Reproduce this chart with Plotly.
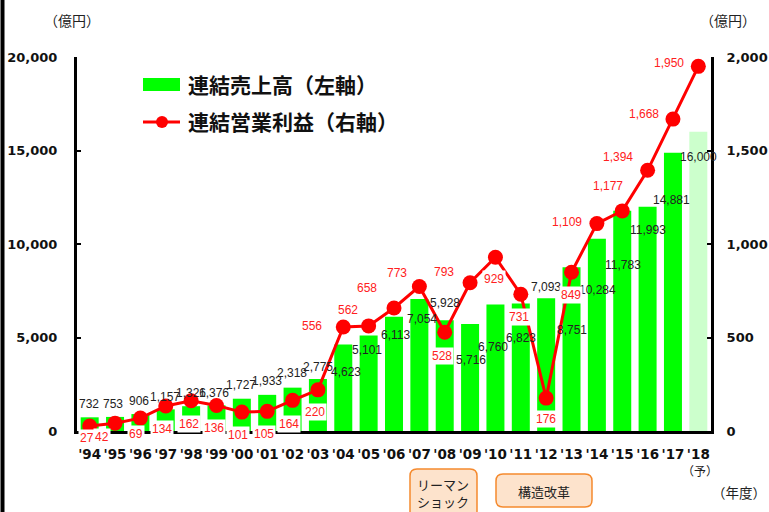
import plotly.graph_objects as go

# ---------------- data ----------------
years = ["'94", "'95", "'96", "'97", "'98", "'99", "'00", "'01", "'02", "'03",
         "'04", "'05", "'06", "'07", "'08", "'09", "'10", "'11", "'12", "'13",
         "'14", "'15", "'16", "'17", "'18"]
sales = [732, 753, 906, 1157, 1326, 1376, 1727, 1933, 2318, 2775,
         4623, 5101, 6113, 7054, 5928, 5716, 6760, 6823, 7093, 8751,
         10284, 11783, 11993, 14881, 16000]
profit = [27, 42, 69, 134, 162, 136, 101, 105, 164, 220,
          556, 562, 658, 773, 528, 793, 929, 731, 176, 849,
          1109, 1177, 1394, 1668, 1950]
left_ticks = [0, 5000, 10000, 15000, 20000]
right_ticks = [0, 500, 1000, 1500, 2000]

# label offsets (pixels) relative to bar top / point
sales_dx = [-1, -2, -1, -1, 0, -2, -1, 0, -1, 0,
            3, -2, 1, 3, 0, 1, -2, 0, 0, 0,
            1, 1, 0, -1, 0]
sales_dy = [13, 13, 13, 12, 13, 12, 14, 14, 15, 12,
            -27, -14, -18, -20, 17, -36, -42, -35, 11, -63,
            -51, -54, -23, -47, -25]
profit_dx = [-3, -13, -4, -4, -2, -2, -4, -3, -4, -3,
             -31, -21, -27, -22, -3, -26, -1, -2, 0, -1,
             -30, -14, -30, -29, -29]
profit_dy = [-12, -14, -16, -23, -23, -22, -23, -23, -24, -22,
             1, 16, 20, 13, -24, 11, -22, -23, -21, -23,
             2, 25, 13, 5, 3]

# ---------------- layout constants ----------------
W, H = 769, 512
L, R, T, B = 77, 711, 57, 431


def px(x):
    return (x - L) / (R - L)


def py(y):
    return (B - y) / (B - T)


bar_colors = ["#00ff00"] * (len(years) - 1) + ["#ccffcc"]
label_font = "Liberation Sans Narrow, Arial Narrow, Liberation Sans, Arial, sans-serif"
tick_font = "Verdana, DejaVu Sans, sans-serif"
jp_font = "Noto Sans CJK JP, sans-serif"

fig = go.Figure()
fig.add_trace(go.Bar(x=years, y=sales, marker=dict(color=bar_colors, line=dict(width=0)),
                     showlegend=False, yaxis="y", hoverinfo="skip"))
fig.add_trace(go.Scatter(x=years, y=profit, mode="lines+markers", yaxis="y2",
                         line=dict(color="#ff0000", width=3),
                         marker=dict(color="#ff0000", size=15),
                         showlegend=False, hoverinfo="skip"))

ann = []
for i, (yr, v) in enumerate(zip(years, sales)):
    ann.append(dict(x=yr, y=v, xref="x", yref="y", text=f"{v:,}", showarrow=False,
                    xshift=sales_dx[i], yshift=sales_dy[i],
                    font=dict(family=label_font, size=12, color="#222222"),
                    xanchor="center", yanchor="middle"))
for i, (yr, v) in enumerate(zip(years, profit)):
    ann.append(dict(x=yr, y=v, xref="x", yref="y2", text=f"{v:,}", showarrow=False,
                    xshift=profit_dx[i], yshift=profit_dy[i],
                    font=dict(family=label_font, size=12, color="#ff2020"),
                    bgcolor="white", borderpad=1,
                    xanchor="center", yanchor="middle"))

# unit labels
ann.append(dict(x=px(72), y=py(20), xref="paper", yref="paper", text="（億円）", showarrow=False,
                font=dict(family=jp_font, size=14, color="#222222"), xanchor="center", yanchor="middle"))
ann.append(dict(x=px(728), y=py(20), xref="paper", yref="paper", text="（億円）", showarrow=False,
                font=dict(family=jp_font, size=14, color="#222222"), xanchor="center", yanchor="middle"))
ann.append(dict(x=px(700), y=py(470), xref="paper", yref="paper", text="（予）", showarrow=False,
                font=dict(family=jp_font, size=12, color="#222222"), xanchor="center", yanchor="middle"))
ann.append(dict(x=px(768), y=py(492), xref="paper", yref="paper", text="（年度）", showarrow=False,
                font=dict(family=jp_font, size=13.5, color="#222222"), xanchor="right", yanchor="middle"))

# legend texts
ann.append(dict(x=px(186), y=py(84), xref="paper", yref="paper", text="<b>連結売上高（左軸）</b>",
                showarrow=False, font=dict(family=jp_font, size=21, color="#111111"),
                xanchor="left", yanchor="middle"))
ann.append(dict(x=px(186), y=py(121), xref="paper", yref="paper", text="<b>連結営業利益（右軸）</b>",
                showarrow=False, font=dict(family=jp_font, size=21, color="#111111"),
                xanchor="left", yanchor="middle"))

# event boxes text
ann.append(dict(x=px(443), y=py(493), xref="paper", yref="paper", text="リーマン<br>ショック",
                showarrow=False, font=dict(family=jp_font, size=13, color="#222222"),
                xanchor="center", yanchor="middle"))
ann.append(dict(x=px(544), y=py(491), xref="paper", yref="paper", text="構造改革",
                showarrow=False, font=dict(family=jp_font, size=13, color="#222222"),
                xanchor="center", yanchor="middle"))


def rounded_path(x0, y0, x1, y1, r):
    # pixel coords -> paper coords path with rounded corners
    def P(x, y):
        return f"{px(x):.5f},{py(y):.5f}"
    return (f"M {P(x0 + r, y0)} L {P(x1 - r, y0)} Q {P(x1, y0)} {P(x1, y0 + r)} "
            f"L {P(x1, y1 - r)} Q {P(x1, y1)} {P(x1 - r, y1)} "
            f"L {P(x0 + r, y1)} Q {P(x0, y1)} {P(x0, y1 - r)} "
            f"L {P(x0, y0 + r)} Q {P(x0, y0)} {P(x0 + r, y0)} Z")


shapes = [
    # left border of picture
    dict(type="line", xref="paper", yref="paper", x0=px(2.5), x1=px(2.5), y0=py(-2), y1=py(514),
         line=dict(color="black", width=4)),
    # legend symbols
    dict(type="rect", xref="paper", yref="paper", x0=px(143), x1=px(180), y0=py(91), y1=py(78),
         fillcolor="#00ff00", line=dict(width=0)),
    dict(type="line", xref="paper", yref="paper", x0=px(143), x1=px(180), y0=py(122), y1=py(122),
         line=dict(color="#ff0000", width=3)),
    dict(type="circle", xref="paper", yref="paper", x0=px(156), x1=px(168), y0=py(128), y1=py(116),
         fillcolor="#ff0000", line=dict(width=0)),
    # event boxes
    dict(type="path", xref="paper", yref="paper", path=rounded_path(410, 469, 477, 518, 7),
         fillcolor="#fde3cc", line=dict(color="#f58a2e", width=1.5)),
    dict(type="path", xref="paper", yref="paper", path=rounded_path(496, 474, 592, 507, 7),
         fillcolor="#fde3cc", line=dict(color="#f58a2e", width=1.5)),
]

fig.update_layout(
    width=W, height=H, autosize=False,
    margin=dict(l=L, r=W - R, t=T, b=H - B, pad=0),
    paper_bgcolor="white", plot_bgcolor="white",
    bargap=0.29,
    showlegend=False,
    hovermode=False,
    annotations=ann,
    shapes=shapes,
    xaxis=dict(type="category", range=[-0.5, len(years) - 0.5], showline=True, linecolor="black",
               linewidth=3, ticks="", showgrid=False, automargin=False,
               tickfont=dict(family=tick_font, size=13.5, color="#111111"), ticklabelstandoff=9),
    yaxis=dict(range=[0, 20000], tickvals=left_ticks, ticktext=[f"<b>{t:,}</b>" for t in left_ticks],
               showline=True, linecolor="black", linewidth=3, ticks="inside", ticklen=4, tickwidth=2,
               tickcolor="black", showgrid=False, zeroline=False, automargin=False,
               tickfont=dict(family=tick_font, size=13, color="#111111"), ticklabelstandoff=14),
    yaxis2=dict(range=[0, 2000], tickvals=right_ticks, ticktext=[f"<b>{t:,}</b>" for t in right_ticks],
                overlaying="y", side="right", showline=True, linecolor="black", linewidth=3,
                ticks="inside", ticklen=4, tickwidth=2, tickcolor="black", showgrid=False,
                zeroline=False, automargin=False,
                tickfont=dict(family=tick_font, size=13, color="#111111"), ticklabelstandoff=10),
)
fig.update_xaxes(ticktext=[f"<b>{y}</b>" for y in years], tickvals=years)

fig.write_html("out.html", config={"displayModeBar": False},
               post_script="document.body.style.margin='0';document.body.style.padding='0';"
                           "document.body.style.overflow='hidden';")
